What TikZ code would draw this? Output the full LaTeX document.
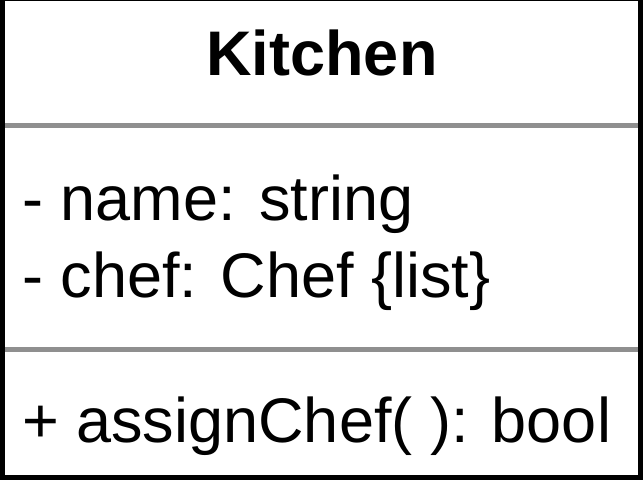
\documentclass[tikz,border=0pt]{standalone}
\usepackage{fontspec}
\setmainfont{Liberation Sans}
\definecolor{divgray}{HTML}{8F8F8F}
\tikzset{
  border/.style={draw=black, line width=5pt},
  divider/.style={draw=divgray, line width=5pt},
  title/.style={font=\fontsize{63}{63}\selectfont\bfseries, inner sep=0pt, anchor=base},
  member/.style={font=\fontsize{63}{63}\selectfont, inner sep=0pt, anchor=base west}
}
\begin{document}
\begin{tikzpicture}[x=1pt, y=-1pt]
\useasboundingbox (0,0) rectangle (643,482);
\fill[white] (0,0) rectangle (643,482);
\coordinate (tl) at (2.5,-1.5);
\coordinate (br) at (640.5,477.2);
\coordinate (d1l) at (5,125.5);
\coordinate (d1r) at (638,125.5);
\coordinate (d2l) at (5,349.5);
\coordinate (d2r) at (638,349.5);
\draw[divider] (d1l) -- (d1r);
\draw[divider] (d2l) -- (d2r);
\draw[border] (tl) rectangle (br);
\node[title] (name) at (322,75) {Kitchen};
\node[member] (attr1) at (22,220) {- name: string};
\node[member] (attr2) at (22,297) {- chef: Chef \{list\}};
\node[member] (op1) at (22,442) {+ assignChef( ): bool};
\end{tikzpicture}
\end{document}
